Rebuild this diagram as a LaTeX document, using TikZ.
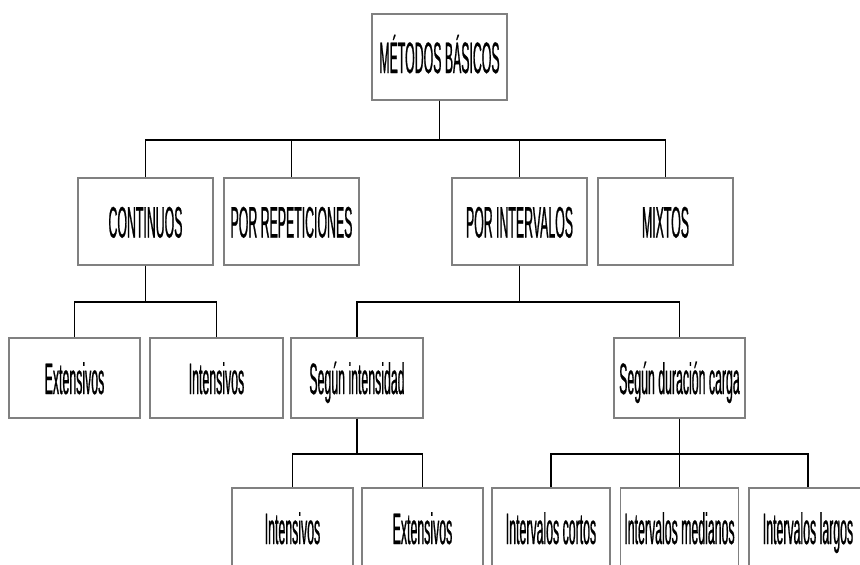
\documentclass[tikz,border=0pt]{standalone}
\usepackage{fontspec}
\setmainfont{Liberation Sans}[FakeStretch=0.28,FakeBold=0.5]
\begin{document}
\begin{tikzpicture}[x=1pt,y=-1pt,
  box/.style={draw=black!50,line width=1.2pt,fill=white,inner sep=0pt,
    font=\fontsize{44}{48}\selectfont,text height=32pt,text depth=0pt},
  conn/.style={draw=black,line width=1.3pt}]
\useasboundingbox (0,0) rectangle (860,565);
\clip (0,0) rectangle (860,565);
% level 1
\node[box,minimum width=135pt,minimum height=86pt] (top) at (439.5,57) {MÉTODOS BÁSICOS};
% level 2
\foreach \n/\x/\t in {cont/145.5/CONTINUOS, rep/291.5/POR REPETICIONES, inter/519.5/POR INTERVALOS, mix/665.5/MIXTOS}
  \node[box,minimum width=135pt,minimum height=87pt] (\n) at (\x,221.5) {\t};
% level 3
\node[box,minimum width=131pt,minimum height=80pt] (ext) at (74.5,378) {Extensivos};
\node[box,minimum width=133pt,minimum height=80pt] (int) at (216.5,378) {Intensivos};
\node[box,minimum width=132pt,minimum height=80pt] (segi) at (357,378) {Según intensidad};
\node[box,minimum width=131pt,minimum height=80pt] (segd) at (679.5,378) {Según duración carga};
% level 4
\node[box,minimum width=121pt,minimum height=80pt] (int2) at (292.5,528) {Intensivos};
\node[box,minimum width=121pt,minimum height=80pt] (ext2) at (422.5,528) {Extensivos};
\node[box,minimum width=118pt,minimum height=80pt] (corto) at (551,528) {Intervalos cortos};
\node[box,minimum width=118pt,minimum height=80pt] (med) at (679.5,528) {Intervalos medianos};
\node[box,minimum width=118pt,minimum height=80pt] (largo) at (808,528) {Intervalos largos};
% buses
\coordinate (b1) at (0,140);
\coordinate (b2) at (0,302);
\coordinate (b3) at (0,454);
\foreach \c in {cont,rep,inter,mix}
  \draw[conn] (top.south) |- (\c.north |- b1) -- (\c.north);
\foreach \c in {ext,int}
  \draw[conn] (cont.south) |- (\c.north |- b2) -- (\c.north);
\foreach \c in {segi,segd}
  \draw[conn] (inter.south) |- (\c.north |- b2) -- (\c.north);
\foreach \c in {int2,ext2}
  \draw[conn] (segi.south) |- (\c.north |- b3) -- (\c.north);
\foreach \c in {corto,med,largo}
  \draw[conn] (segd.south) |- (\c.north |- b3) -- (\c.north);
\end{tikzpicture}
\end{document}
